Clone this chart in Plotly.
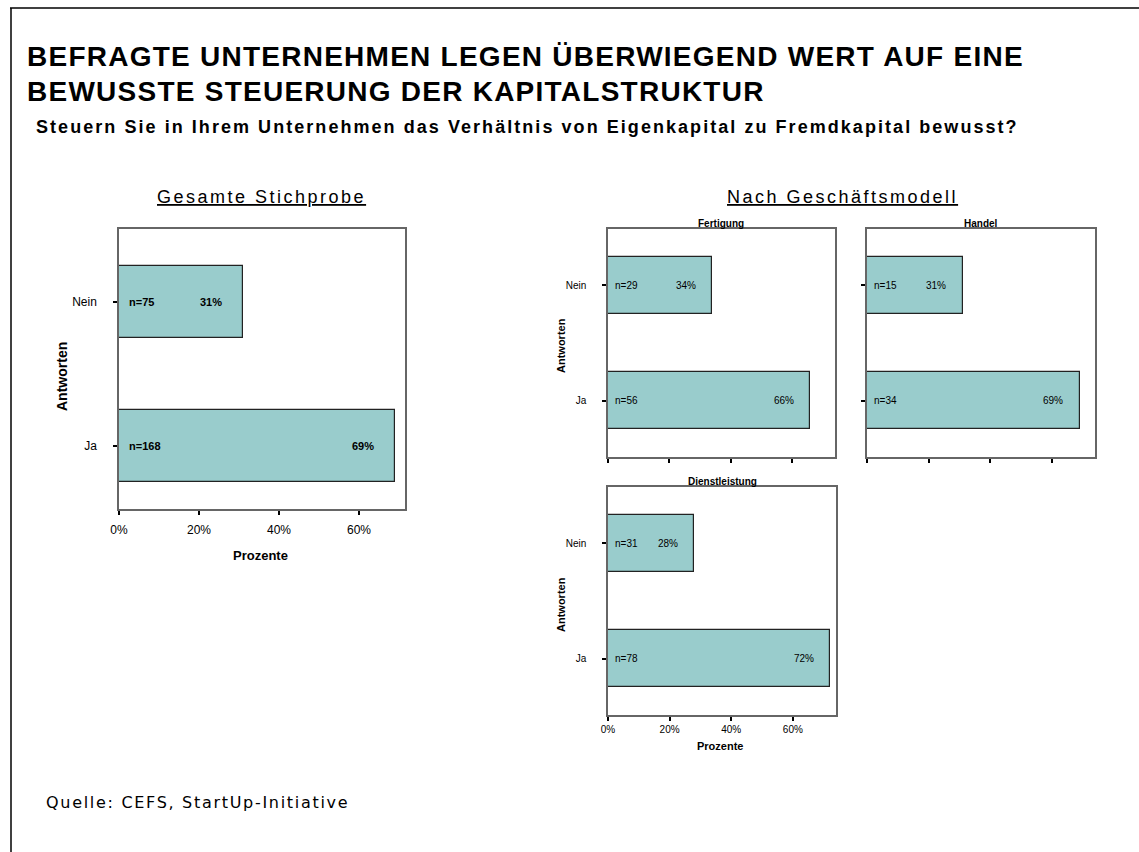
import plotly.graph_objects as go

W, H = 1139, 852

categories = ["Ja", "Nein"]

gesamt_pct = [69, 31]
gesamt_n = [168, 75]

fertigung_pct = [66, 34]
fertigung_n = [56, 29]

handel_pct = [69, 31]
handel_n = [34, 15]

dienst_pct = [72, 28]
dienst_n = [78, 31]

x_ticks = [0, 20, 40, 60]
x_ticktext = ["0%", "20%", "40%", "60%"]

BAR = "#99CCCC"
FONT = "Liberation Sans, Arial, sans-serif"


def px(x):
    return x / W


def py(y):
    return 1 - y / H


fig = go.Figure()

panels = [
    ("Gesamt", gesamt_pct, gesamt_n, "x", "y", (119, 405, 229, 509), [0, 71.5], [-0.4375, 1.507], True),
    ("Fertigung", fertigung_pct, fertigung_n, "x2", "y2", (608, 835, 229, 457), [0, 74], [-0.49, 1.49], False),
    ("Handel", handel_pct, handel_n, "x3", "y3", (867, 1095, 229, 457), [0, 74], [-0.49, 1.49], False),
    ("Dienstleistung", dienst_pct, dienst_n, "x4", "y4", (608, 836, 487, 715), [0, 74], [-0.49, 1.49], False),
]

annotations = []
for name, pct, n, xa, ya, dom, xr, yr, big in panels:
    fig.add_trace(go.Bar(
        x=pct, y=categories, orientation="h", width=0.5,
        marker=dict(color=BAR, line=dict(color="#222", width=1.2)),
        xaxis=xa, yaxis=ya, showlegend=False, hoverinfo="skip",
    ))
    fs = 11 if big else 10
    fw = "bold" if big else "normal"
    for c, v, nn in zip(categories, pct, n):
        annotations.append(dict(
            x=2 if big else 1.5, y=c, xref=xa, yref=ya, text=f"n={nn}",
            showarrow=False, xanchor="left", yanchor="middle",
            font=dict(family=FONT, size=fs, color="#000", weight=fw)))
        annotations.append(dict(
            x=v - (8 if big else 8.5), y=c, xref=xa, yref=ya, text=f"{v}%",
            showarrow=False, xanchor="center", yanchor="middle",
            font=dict(family=FONT, size=fs, color="#000", weight=fw)))

layout_axes = {}
for name, pct, n, xa, ya, dom, xr, yr, big in panels:
    x0, x1, y0, y1 = dom
    xkey = "xaxis" if xa == "x" else "xaxis" + xa[1:]
    ykey = "yaxis" if ya == "y" else "yaxis" + ya[1:]
    show_xlabels = big or name == "Dienstleistung"
    show_ylabels = name != "Handel"
    layout_axes[xkey] = dict(
        domain=[px(x0), px(x1)], range=xr, anchor=ya, automargin=False,
        tickvals=x_ticks, ticktext=x_ticktext, showticklabels=show_xlabels,
        ticks="outside", ticklen=4, tickwidth=1.5, tickcolor="#000",
        ticklabelstandoff=5 if big else 0,
        showline=True, mirror=True, linecolor="#666", linewidth=1.5,
        showgrid=False, zeroline=False,
        tickfont=dict(family=FONT, size=12 if big else 10, color="#000"),
    )
    layout_axes[ykey] = dict(
        domain=[py(y1), py(y0)], range=yr, anchor=xa, automargin=False,
        type="category", categoryorder="array", categoryarray=categories,
        showticklabels=show_ylabels,
        ticks="outside", ticklen=4, tickwidth=1.5, tickcolor="#000",
        ticklabelstandoff=14,
        showline=True, mirror=True, linecolor="#666", linewidth=1.5,
        showgrid=False, zeroline=False,
        tickfont=dict(family=FONT, size=12 if big else 10, color="#000"),
    )


def add_text(text, x, y, size, bold=False, xanchor="center", angle=0, family=FONT, spacing=0):
    if spacing:
        text = f'<span style="letter-spacing:{spacing}px">{text}</span>'
    annotations.append(dict(
        text=text, x=px(x), y=py(y), xref="paper", yref="paper",
        showarrow=False, xanchor=xanchor, yanchor="middle", textangle=angle,
        font=dict(family=family, size=size, color="#000", weight="bold" if bold else "normal")))


add_text("BEFRAGTE UNTERNEHMEN LEGEN ÜBERWIEGEND WERT AUF EINE", 25, 56, 28, True, "left", spacing=1.25)
add_text("BEWUSSTE STEUERUNG DER KAPITALSTRUKTUR", 25, 91, 28, True, "left", spacing=1.25)
add_text("Steuern Sie in Ihrem Unternehmen das Verhältnis von Eigenkapital zu Fremdkapital bewusst?", 34, 127, 18, True, "left", spacing=2.05)
add_text("<u>Gesamte Stichprobe</u>", 261, 197, 18, spacing=2.5)
add_text("<u>Nach Geschäftsmodell</u>", 842, 197, 18, spacing=2.5)
add_text("Fertigung", 721, 223, 10, True)
add_text("Handel", 981, 223, 10, True)
add_text("Dienstleistung", 722, 481, 10, True)
add_text("Antworten", 62, 377, 14, True, angle=-90)
add_text("Antworten", 561, 346, 11, True, angle=-90)
add_text("Antworten", 561, 605, 11, True, angle=-90)
add_text("Prozente", 260, 555, 13, True)
add_text("Prozente", 720, 746, 11, True)
add_text("Quelle: CEFS, StartUp-Initiative", 44, 802, 16, False, "left",
         family="DejaVu Sans, Verdana, sans-serif", spacing=1.7)

shapes = [
    dict(type="line", xref="paper", yref="paper", x0=px(10), x1=px(1139), y0=py(8), y1=py(8),
         line=dict(color="#000", width=1.5)),
    dict(type="line", xref="paper", yref="paper", x0=px(11), x1=px(11), y0=py(8), y1=py(852),
         line=dict(color="#000", width=1.5)),
]

fig.update_layout(
    width=W, height=H, margin=dict(l=0, r=0, t=0, b=0, autoexpand=False),
    paper_bgcolor="white", plot_bgcolor="white",
    annotations=annotations, shapes=shapes, bargap=0,
    **layout_axes,
)

fig.write_html(
    "out.html",
    config={"displayModeBar": False},
    post_script="document.body.style.margin='0';document.body.style.overflow='hidden';",
)
